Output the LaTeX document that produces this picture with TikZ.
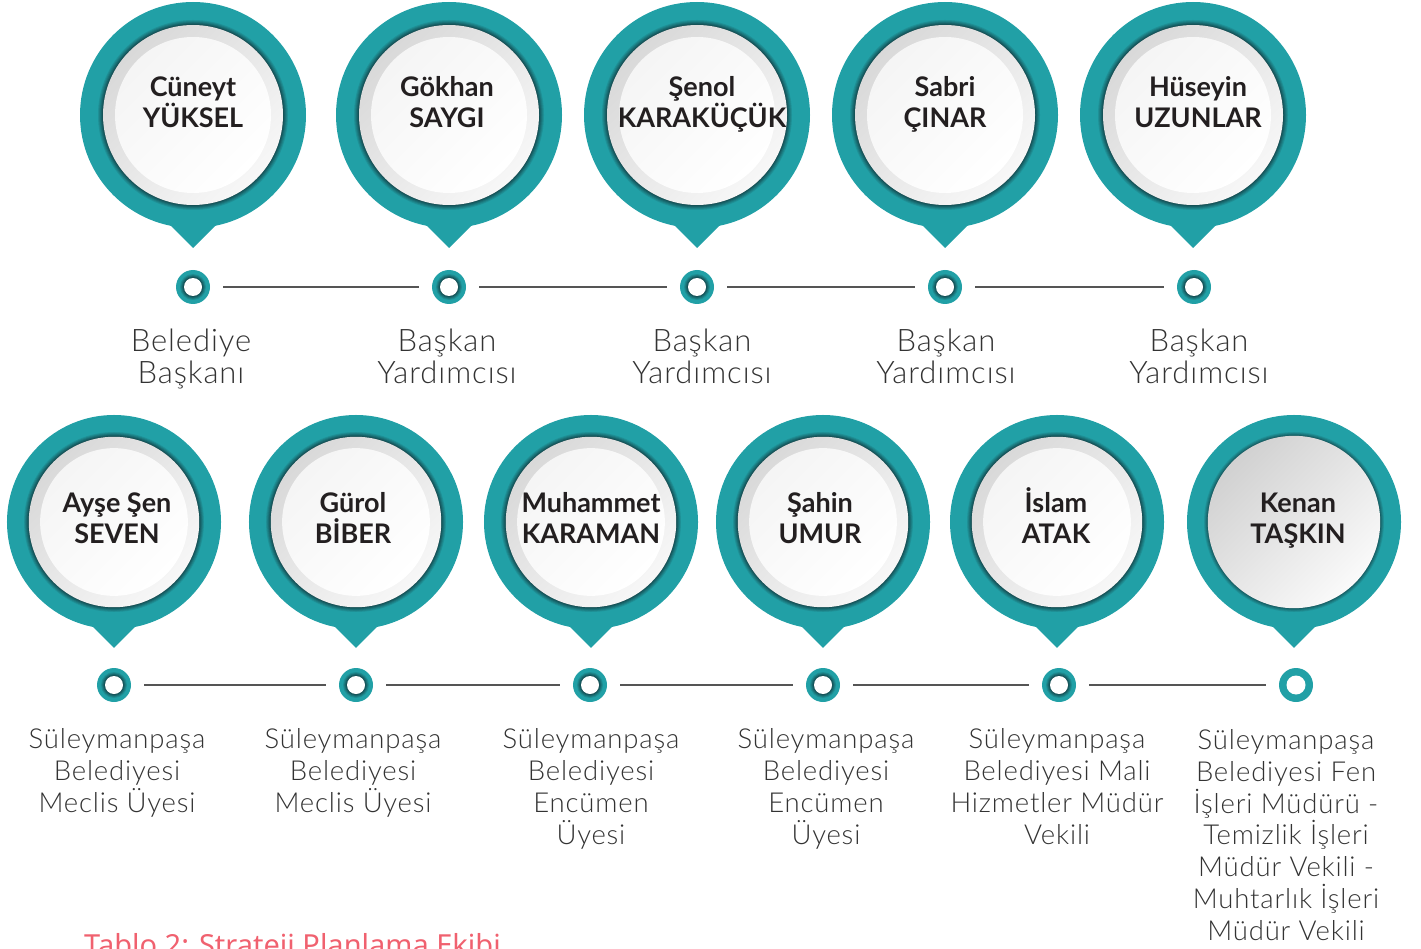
\documentclass[tikz,border=0pt]{standalone}
\usepackage{fontspec}
\setmainfont{Lato}
\newfontfamily\rolefont{Lato Light}[LetterSpace=3]
\newfontfamily\capfont{Noto Sans}

\definecolor{pinteal}{HTML}{21A0A6}
\definecolor{pinshadow}{HTML}{123E43}
\definecolor{linegray}{HTML}{555555}
\definecolor{inkblack}{HTML}{231F20}
\definecolor{rolegray}{HTML}{333333}
\definecolor{captionred}{HTML}{F0616F}

\begin{document}
\begin{tikzpicture}[x=1pt,y=-1pt,
	person/.style={font=\bfseries\fontsize{27}{31}\selectfont, text=inkblack, align=center, anchor=base, inner sep=0},
	roletop/.style={font=\rolefont\fontsize{31}{32}\selectfont, text=rolegray, align=center, anchor=base, inner sep=0},
	rolebot/.style={font=\rolefont\fontsize{27.5}{31.7}\selectfont, text=rolegray, align=center, anchor=base, inner sep=0},
	dotnode/.style={circle, fill=pinteal, minimum size=34, inner sep=0, path picture={
		\foreach \k [evaluate=\k as \p using int(100-20*\k)] in {0,...,4}
			\fill[pinteal!\p!pinshadow] (path picture bounding box.center) circle (14-\k);
		\fill[white] (path picture bounding box.center) circle (9);}},
	plaindot/.style={circle, fill=pinteal, minimum size=34, inner sep=0, path picture={
		\fill[white] (path picture bounding box.center) circle (9.5);}},
	conn/.style={draw=linegray, line width=2.5, shorten <=13pt, shorten >=13pt},
	caption/.style={font=\capfont\fontsize{29}{30}\selectfont, text=captionred, anchor=base west, inner sep=0}]
	\useasboundingbox (0,0) rectangle (1421,949);

	% pins, top row
	\foreach \x in {193,449,697,945,1193}{
		\begin{scope}[shift={(\x,115)}]
			\fill[pinteal] (0,0) circle (113);
			\fill[pinteal] (-40,93) -- (0,133) -- (40,93) -- cycle;
			\foreach \k [evaluate=\k as \p using int(100-16*\k)] in {0,...,6}
				\fill[pinteal!\p!pinshadow] (0,0) circle (96-\k);
			\shade[top color=gray!6, bottom color=gray!30, shading angle=225] (0,0) circle (90);
			\shade[top color=white, bottom color=gray!8, shading angle=225] (0,0) circle (78);
		\end{scope}
	}
	% pins, bottom row
	\foreach \x in {114,356,591,823,1057,1294}{
		\begin{scope}[shift={(\x,522)}, scale=0.947]
			\fill[pinteal] (0,0) circle (113);
			\fill[pinteal] (-40,93) -- (0,133) -- (40,93) -- cycle;
			\foreach \k [evaluate=\k as \p using int(100-16*\k)] in {0,...,6}
				\fill[pinteal!\p!pinshadow] (0,0) circle (96-\k);
			\ifnum\x=1294
				\shade[top color=gray!4, bottom color=gray!36, shading angle=225] (0,0) circle (91);
			\else
				\shade[top color=gray!6, bottom color=gray!30, shading angle=225] (0,0) circle (90);
				\shade[top color=white, bottom color=gray!8, shading angle=225] (0,0) circle (78);
			\fi
		\end{scope}
	}

	% names (base = last line)
	\node[person] (n1) at (193,128) {Cüneyt\\YÜKSEL};
	\node[person] (n2) at (447,128) {Gökhan\\SAYGI};
	\node[person] (n3) at (702,128) {Şenol\\KARAKÜÇÜK};
	\node[person] (n4) at (945,128) {Sabri\\ÇINAR};
	\node[person] (n5) at (1198,128) {Hüseyin\\UZUNLAR};
	\node[person] (n6) at (117,543) {Ayşe Şen\\SEVEN};
	\node[person] (n7) at (353,543) {Gürol\\BİBER};
	\node[person] (n8) at (591,543) {Muhammet\\KARAMAN};
	\node[person] (n9) at (820,543) {Şahin\\UMUR};
	\node[person] (n10) at (1056,543) {İslam\\ATAK};
	\node[person] (n11) at (1298,543) {Kenan\\TAŞKIN};

	% dots and lines
	\node[dotnode] (d1) at (193,287) {};
	\node[dotnode] (d2) at (449,287) {};
	\node[dotnode] (d3) at (697,287) {};
	\node[dotnode] (d4) at (945,287) {};
	\node[dotnode] (d5) at (1194,287) {};
	\node[dotnode] (d6) at (114,685) {};
	\node[dotnode] (d7) at (356,685) {};
	\node[dotnode] (d8) at (590,685) {};
	\node[dotnode] (d9) at (823,685) {};
	\node[dotnode] (d10) at (1059,685) {};
	\node[plaindot] (d11) at (1296,685) {};
	\foreach \a/\b in {1/2,2/3,3/4,4/5,6/7,7/8,8/9,9/10,10/11}{
		\draw[conn] (d\a) -- (d\b);
	}

	% roles (base = last line)
	\node[roletop] (r1) at (191,383) {Belediye\\Başkanı};
	\node[roletop] (r2) at (447,383) {Başkan\\Yardımcısı};
	\node[roletop] (r3) at (702,383) {Başkan\\Yardımcısı};
	\node[roletop] (r4) at (946,383) {Başkan\\Yardımcısı};
	\node[roletop] (r5) at (1199,383) {Başkan\\Yardımcısı};
	\node[rolebot] (r6) at (117,812) {Süleymanpaşa\\Belediyesi\\Meclis Üyesi};
	\node[rolebot] (r7) at (353,812) {Süleymanpaşa\\Belediyesi\\Meclis Üyesi};
	\node[rolebot] (r8) at (591,844) {Süleymanpaşa\\Belediyesi\\Encümen\\Üyesi};
	\node[rolebot] (r9) at (826,844) {Süleymanpaşa\\Belediyesi\\Encümen\\Üyesi};
	\node[rolebot] (r10) at (1057,844) {Süleymanpaşa\\Belediyesi Mali\\Hizmetler Müdür\\Vekili};
	\node[rolebot] (r11) at (1286,940) {Süleymanpaşa\\Belediyesi Fen\\İşleri Müdürü -\\Temizlik İşleri\\Müdür Vekili -\\Muhtarlık İşleri\\Müdür Vekili};

	\node[caption] (cap) at (84,955) {Tablo 2: Strateji Planlama Ekibi};
\end{tikzpicture}
\end{document}
